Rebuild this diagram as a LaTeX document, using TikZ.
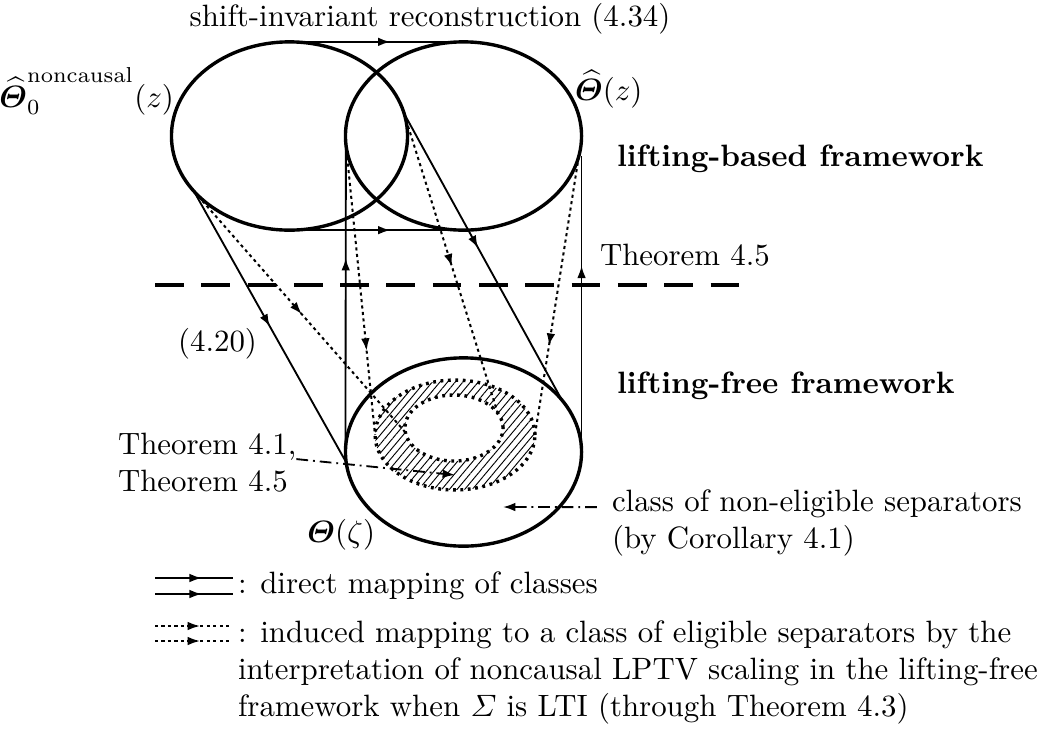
\documentclass[tikz,border=0pt]{standalone}
\usepackage{amsmath,bm}
\usetikzlibrary{arrows.meta, decorations.markings, patterns.meta, positioning, shapes.geometric}
\tikzset{
  % Classes of separators
  sepclass/.style  = { draw, ellipse, line width=1.1pt, inner sep=0, outer sep=0,
                       minimum width=76.5pt, minimum height=61pt },
  eligclass/.style = { draw, ellipse, line width=1.1pt, dash pattern=on 0.9pt off 1.5pt,
                       inner sep=0, outer sep=0 },
  hatched/.style   = { pattern={Lines[angle=50, distance=1.9pt, line width=0.3pt]} },
  % Mappings
  mapsolid/.style  = { line width=0.6pt, postaction={decorate},
                       decoration={markings, mark=at position #1 with
                         {\arrow{Latex[length=4pt,width=2.8pt]}}} },
  mapdotted/.style = { mapsolid=#1, line width=0.65pt, dash pattern=on 1pt off 1.1pt },
  pointer/.style   = { line width=0.6pt, dash pattern=on 3.8pt off 1.6pt on 0.6pt off 1.6pt,
                       -{Latex[length=4pt,width=2.8pt]} },
  seprule/.style   = { line width=1.1pt, dash pattern=on 9.3pt off 5.7pt },
  % Texts
  txt/.style       = { inner sep=0, outer sep=0 },
  frametxt/.style  = { txt, font=\bfseries }
}

\begin{document}
\begin{tikzpicture}[x=0.324pt, y=-0.324pt]
  \useasboundingbox (0,0) rectangle (1052,733);

  % lifting-based classes
  \node[sepclass] (nc) at (289.5,136) {};
  \node[sepclass] (lb) at (463.5,136) {};
  % lifting-free class and eligible separators
  \node[sepclass] (lf) at (463.5,452) {};
  \path[hatched, even odd rule] (455,435) ellipse [x radius=80, y radius=55]
                                (454,428) ellipse [x radius=49, y radius=33];
  \node[eligclass, minimum width=51.8pt, minimum height=35.6pt] (outer) at (455,435) {};
  \node[eligclass, minimum width=31.8pt, minimum height=21.4pt] (inner) at (454,428) {};
  \coordinate (eligpt) at (455,475);
  \coordinate (noneligpt) at (503,507);

  \draw[seprule] (155,285) -- (740,285);

  % direct mappings
  \draw[mapsolid=0.58] (nc.north) -- (lb.north);
  \draw[mapsolid=0.58] (nc.south) -- (lb.south);
  \draw[mapsolid=0.5] (nc.210) -- (lf.185);
  \draw[mapsolid=0.47] (nc.11) -- (lf.28);
  \draw[mapsolid=0.63] (lf.west) -- (lb.184);
  \draw[mapsolid=0.63] (lf.east) -- (lf.east |- lb.-10);

  % induced mappings
  \draw[mapdotted=0.51] (nc.210) -- (inner.185);
  \draw[mapdotted=0.51] (nc.11) -- (inner.19);
  \draw[mapdotted=0.71] (lb.184) -- (outer.west);
  \draw[mapdotted=0.68] (lb.-10) -- (outer.east);

  % labels
  \node[txt, anchor=base] (shiftlbl) at (430,26) {shift-invariant reconstruction (4.34)};
  \node[txt, anchor=base east] (nclbl) at (174,107)
    {${\widehat{\bm{\varTheta}}\rule{0pt}{10.5pt}}_0^{\mathrm{noncausal}}(z)$};
  \node[txt, anchor=base west] (lblbl) at (575,100) {$\widehat{\bm{\varTheta}}(z)$};
  \node[frametxt, anchor=base west] (lbframe) at (617,166) {lifting-based framework};
  \node[txt, anchor=base west] (thmupper) at (600,265) {Theorem 4.5};
  \node[txt, anchor=base east] (eqlbl) at (257,351) {(4.20)};
  \node[frametxt, anchor=base west] (lfframe) at (617,393) {lifting-free framework};
  \node[txt, anchor=base east] (lflbl) at (375,542) {$\bm{\varTheta}(\zeta)$};
  \node[txt, align=left, anchor=north west] (thmlower) at (118,432.6)
    {Theorem 4.1,\\Theorem 4.5};
  \node[txt, align=left, anchor=north west] (nonelig) at (612,489.6)
    {class of non-eligible separators\\(by Corollary 4.1)};

  \draw[pointer] ([yshift=1pt]thmlower.east) -- (eligpt);
  \draw[pointer] ([xshift=-4.9pt, yshift=5.1pt]nonelig.west) -- (noneligpt);

  % legend
  \draw[mapsolid=0.6] (155,578) -- (233,578);
  \draw[mapsolid=0.6] (155,594) -- (233,594);
  \node[txt, anchor=base west] (legdirect) at (238,593) {: direct mapping of classes};
  \draw[mapdotted=0.6] (155,626) -- (230,626);
  \draw[mapdotted=0.6] (155,641) -- (230,641);
  \node[txt, align=left, anchor=north west] (leginduced) at (238,620.6)
    {: induced mapping to a class of eligible separators by the\\
     interpretation of noncausal LPTV scaling in the lifting-free\\
     framework when $\varSigma$ is LTI (through Theorem 4.3)};

\end{tikzpicture}
\end{document}
